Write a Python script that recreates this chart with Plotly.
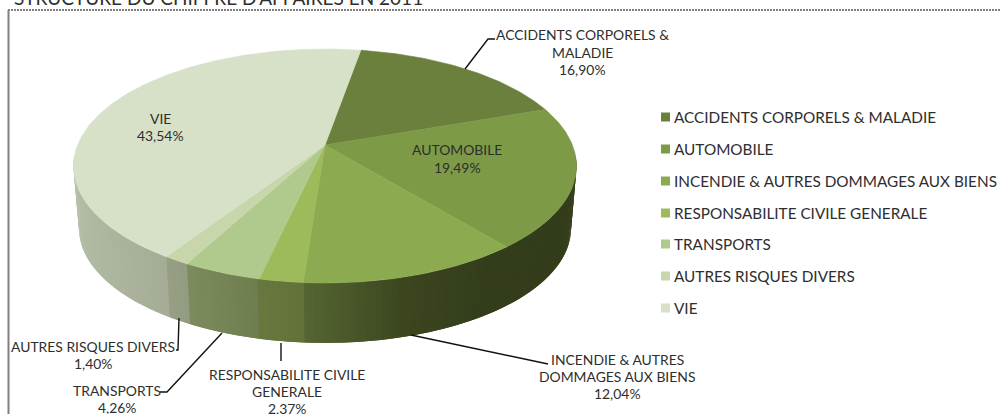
import numpy as np
import plotly.graph_objects as go

categories = ["ACCIDENTS CORPORELS & MALADIE", "AUTOMOBILE", "INCENDIE & AUTRES DOMMAGES AUX BIENS",
              "RESPONSABILITE CIVILE GENERALE", "TRANSPORTS", "AUTRES RISQUES DIVERS", "VIE"]
values = [16.90, 19.49, 12.04, 2.37, 4.26, 1.40, 43.54]
top_colors = ["#6B803C", "#7D9A47", "#8CAB50", "#9DBB5A", "#B0C98C", "#C8D7AB", "#D7E1C8"]

wall_angles = [95, 120, 145, 165, 184, 184.1, 192.6, 192.7, 207.8, 207.9, 212.9, 213, 225, 245, 265]
wall_colors = ["#3A4420", "#333D1B", "#333D1B", "#3C4720", "#566633", "#637338", "#68783F", "#6F7E4E", "#7D8C5F",
               "#939C80", "#979F85", "#A5AD96", "#ABB39C", "#B2BBA4", "#B8C2A9"]

FONT = "Lato"
TEXT = "#2E2E2E"
START = 9.8
CX, CY, R, H, K = 325.0, 145.0, 247.4, 113.2, 0.1795
ELL_CY, DEPTH_CY, SHRINK = 166.0, 228.5, 0.978


def top_xy(theta):
    t = np.radians(theta)
    u, v = np.sin(t), np.cos(t)
    w = 1 + K * v
    return CX + R * u / w, CY - H * v / w


def low_xy(theta):
    x, y = top_xy(theta)
    return CX + (x - CX) * SHRINK, DEPTH_CY + (y - ELL_CY) * SHRINK


def hex_rgb(c):
    return np.array([int(c[i:i + 2], 16) for i in (1, 3, 5)], dtype=float)


def wall_color(theta):
    rgb = [np.interp(theta, wall_angles, [hex_rgb(c)[i] for c in wall_colors]) for i in range(3)]
    return "rgb(%d,%d,%d)" % tuple(rgb)


fig = go.Figure()


def poly(x, y, color, lw=0.6):
    fig.add_trace(go.Scatter(x=x, y=y, mode="lines", fill="toself", fillcolor=color,
                             line=dict(color=color, width=lw), hoverinfo="skip", showlegend=False))


# side wall: strips overlap the next one so that no seams show
STEP = 1.0
edges = np.arange(wall_angles[0], wall_angles[-1], STEP)
for a in edges:
    th = np.linspace(a, min(a + 2 * STEP, wall_angles[-1]), 4)
    tx, ty = top_xy(th)
    lx, ly = low_xy(th[::-1])
    poly(list(tx) + list(lx) + [tx[0]], list(ty) + list(ly) + [ty[0]], wall_color(a + STEP / 2), lw=0)

# top face
bounds = START + np.concatenate([[0], np.cumsum(values)]) * 3.6
for i, c in enumerate(top_colors):
    th = np.linspace(bounds[i], bounds[i + 1], max(4, int(values[i] * 4)))
    x, y = top_xy(th)
    poly([CX] + list(x) + [CX], [CY] + list(y) + [CY], c)

# leader lines
leaders = [
    ([465, 488, 495], [69, 39, 39]),
    ([411, 545, 548], [335, 364, 364]),
    ([281, 281], [343, 361]),
    ([222, 167, 160], [333, 392, 392]),
    ([179, 178, 176], [318, 350, 350]),
]
for lx, ly in leaders:
    fig.add_trace(go.Scatter(x=lx, y=ly, mode="lines", line=dict(color="#111111", width=1.4),
                             hoverinfo="skip", showlegend=False))

# legend squares
leg_y = [117, 149, 181, 213, 244, 276, 308]
fig.add_trace(go.Scatter(x=[665.5] * 7, y=leg_y, mode="markers",
                         marker=dict(symbol="square", size=9, color=top_colors, line=dict(width=0)),
                         hoverinfo="skip", showlegend=False))

shapes = [
    dict(type="line", xref="x", yref="y", x0=8.5, x1=8.5, y0=10, y1=414, line=dict(color="#808080", width=2)),
    dict(type="line", xref="x", yref="y", x0=8, x1=1000, y0=10, y1=10, line=dict(color="#808080", width=2, dash="2px,1px")),
]


def label(x, y, text, size=13.9, anchor="center", yshift=0):
    fig.add_annotation(x=x, y=y, xref="x", yref="y", text=text, showarrow=False, xanchor=anchor, yanchor="middle",
                       align="center", yshift=yshift, font=dict(family=FONT, size=size, color=TEXT))


def pct(v):
    return ("%.2f%%" % v).replace(".", ",")


for i, name in enumerate(categories):
    label(671.5, leg_y[i], name, size=15.3, anchor="left")

label(12, 0, "STRUCTURE DU CHIFFRE D'AFFAIRES EN 2011", size=19, anchor="left", yshift=2.5)

slice_labels = [
    (582, [34, 52, 69], ["ACCIDENTS CORPORELS &", "MALADIE"], 0),
    (457, [149, 167], ["AUTOMOBILE"], 1),
    (617, [359, 376, 393], ["INCENDIE & AUTRES", "DOMMAGES AUX BIENS"], 2),
    (287, [374, 391, 408], ["RESPONSABILITE CIVILE", "GENERALE"], 3),
    (117, [390, 407], ["TRANSPORTS"], 4),
    (93, [346, 363], ["AUTRES RISQUES DIVERS"], 5),
    (160, [118, 135], ["VIE"], 6),
]
for x, ys, lines, idx in slice_labels:
    for y, t in zip(ys, lines + [pct(values[idx])]):
        label(x, y, t)

fig.update_layout(
    width=1000, height=414, margin=dict(l=0, r=0, t=0, b=0), autosize=False,
    paper_bgcolor="white", plot_bgcolor="white", showlegend=False, shapes=shapes,
    xaxis=dict(range=[0, 1000], visible=False, fixedrange=True),
    yaxis=dict(range=[414, 0], visible=False, fixedrange=True),
)
fig.write_html("out.html", config=dict(displayModeBar=False),
               post_script="document.body.style.margin='0';document.body.style.overflow='hidden';")
